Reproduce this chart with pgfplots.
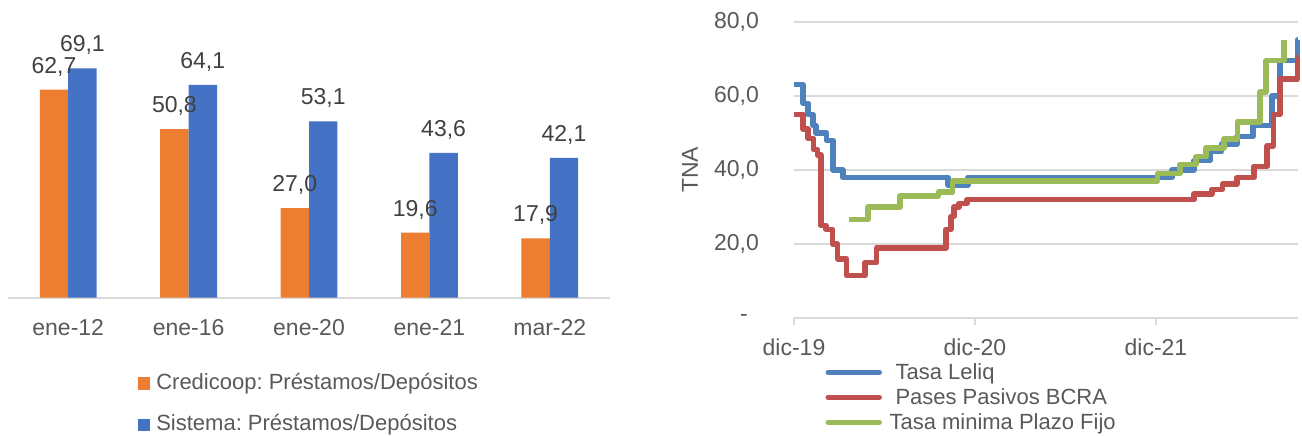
\documentclass[border=0pt]{standalone}
\usepackage{fontspec}
\setmainfont{Liberation Sans}
\usepackage{pgfplots}
\pgfplotsset{compat=1.18}
\definecolor{corange}{HTML}{ED7D31}
\definecolor{cbar}{HTML}{4472C4}
\definecolor{cleliq}{HTML}{4F81BD}
\definecolor{cpases}{HTML}{C0504D}
\definecolor{cpf}{HTML}{9BBB59}
\definecolor{cgrid}{HTML}{D9D9D9}
\definecolor{ctick}{HTML}{595959}
\definecolor{clab}{HTML}{404040}
\newcommand{\bigf}{\fontsize{23}{27}\selectfont}
\newcommand{\legf}{\fontsize{22}{26}\selectfont}
\frenchspacing
\begin{document}
\begin{tikzpicture}[x=1pt,y=1pt]
\useasboundingbox (0,0) rectangle (1302,436);
% ---------------- left: bar chart ----------------
\begin{axis}[
  at={(8pt,138.3pt)}, anchor=south west, scale only axis,
  width=602pt, height=297.7pt,
  xmin=-0.5, xmax=4.5, ymin=0, ymax=89.7,
  ybar=0pt, bar width=28.4pt,
  axis lines*=left,
  y axis line style={draw=none},
  x axis line style={draw=cgrid, line width=2.2pt, -},
  ytick=\empty,
  xtick={0,1,2,3,4},
  xticklabels={ene-12,ene-16,ene-20,ene-21,mar-22},
  major tick length=0pt,
  xticklabel style={anchor=base, inner sep=0pt, yshift=-38pt, font=\bigf, text=ctick},
  nodes near coords={\pgfmathprintnumber{\pgfplotspointmeta}},
  /pgf/number format/.cd, fixed, fixed zerofill, precision=1, use comma, assume math mode=true,
  /pgfplots/.cd,
  every node near coord/.append style={anchor=base, inner sep=0pt, yshift=16.5pt, font=\bigf, text=clab},
  legend style={draw=none, fill=none, at={(0,0)}, anchor=north west,
    xshift=130.3pt, yshift=-75.6pt, inner sep=0pt, outer sep=0pt,
    row sep=21.7pt, column sep=6pt, font=\legf, text=ctick,
    nodes={inner sep=0pt, text height=16pt, text depth=4pt},
    cells={anchor=west}},
  legend image code/.code={\fill[#1] (0pt,-6.3pt) rectangle (12pt,6.3pt);},
]
\addplot[fill=corange, draw=none] coordinates {(0,62.7) (1,50.8) (2,27.0) (3,19.6) (4,17.9)};
\addplot[fill=cbar, draw=none] coordinates {(0,69.1) (1,64.1) (2,53.1) (3,43.6) (4,42.1)};
\legend{Credicoop: Préstamos/Depósitos, Sistema: Préstamos/Depósitos}
\end{axis}
% ---------------- right: rates ----------------
\begin{axis}[
  at={(794pt,117.7pt)}, anchor=south west, scale only axis,
  width=504pt, height=296.6pt,
  xmin=0, xmax=33.42, ymin=0, ymax=80,
  clip=false,
  axis lines*=left,
  y axis line style={draw=none},
  x axis line style={draw=cgrid, line width=1.6pt, -},
  ymajorgrids, grid style={draw=cgrid, line width=1.6pt},
  ytick={0,20,40,60,80},
  yticklabels={{-\hspace*{11pt}},{20,0},{40,0},{60,0},{80,0}},
  ytick style={draw=none},
  yticklabel style={anchor=east, inner sep=0pt, xshift=-28pt, font=\bigf, text=ctick},
  xtick={0,12,24},
  xticklabels={dic-19,dic-20,dic-21},
  tick align=outside, xtick pos=bottom,
  xtick style={draw=cgrid, line width=1.6pt},
  major tick length=7pt,
  xticklabel style={anchor=base, inner sep=0pt, yshift=-30.7pt, font=\bigf, text=ctick},
  ylabel={TNA},
  ylabel style={at={(axis description cs:-0.2063,0.5)}, anchor=center, font=\bigf, text=ctick},
  legend style={draw=none, fill=none, at={(0,0)}, anchor=north west,
    xshift=31.5pt, yshift=-44.6pt, inner sep=0pt, outer sep=0pt,
    row sep=6pt, column sep=13.5pt, font=\legf, text=ctick,
    nodes={inner sep=0pt, text height=17pt, text depth=2pt},
    cells={anchor=west}},
  legend image code/.code={\draw[#1, line width=5.5pt, line cap=round] (0pt,0pt) -- (51pt,0pt);},
]
\addplot[const plot, cleliq, line width=5.5pt, line join=round] coordinates {
(0,63) (0.6,58) (0.93,55) (1.26,52) (1.46,50) (2.17,48) (2.59,40) (3.24,38)
(10.21,36) (11.54,38) (25.05,40) (26.53,42.5) (27.59,45) (28.36,47) (29.36,49)
(30.42,52) (31.68,60) (32.23,69.5) (33.38,75) (33.42,75)};
\addplot[const plot, cpases, line width=5.5pt, line join=round] coordinates {
(0,55) (0.6,51) (0.93,48.5) (1.3,45.5) (1.55,44) (1.78,25) (2.12,24) (2.56,20)
(2.9,16) (3.49,11.5) (4.7,15) (5.48,19) (10.08,24) (10.4,27.5) (10.6,30)
(10.94,31) (11.47,32) (26.53,33.5) (27.7,34.8) (28.42,36.2) (29.36,38)
(30.5,41) (31.38,46.5) (31.78,55) (32.23,64.5) (33.38,70.5) (33.42,70.5)};
\addplot[const plot, cpf, line width=5.5pt, line join=round] coordinates {
(3.65,26.6) (4.9,30) (7.03,33) (9.57,34) (10.52,37) (24.1,39) (25.59,41.5)
(26.66,43.6) (27.33,46) (28.5,48.3) (29.4,53) (30.9,61) (31.3,69.5) (32.5,75)};
\legend{Tasa Leliq, Pases Pasivos BCRA, \hspace*{-6pt}Tasa minima Plazo Fijo}
\end{axis}
\end{tikzpicture}
\end{document}
